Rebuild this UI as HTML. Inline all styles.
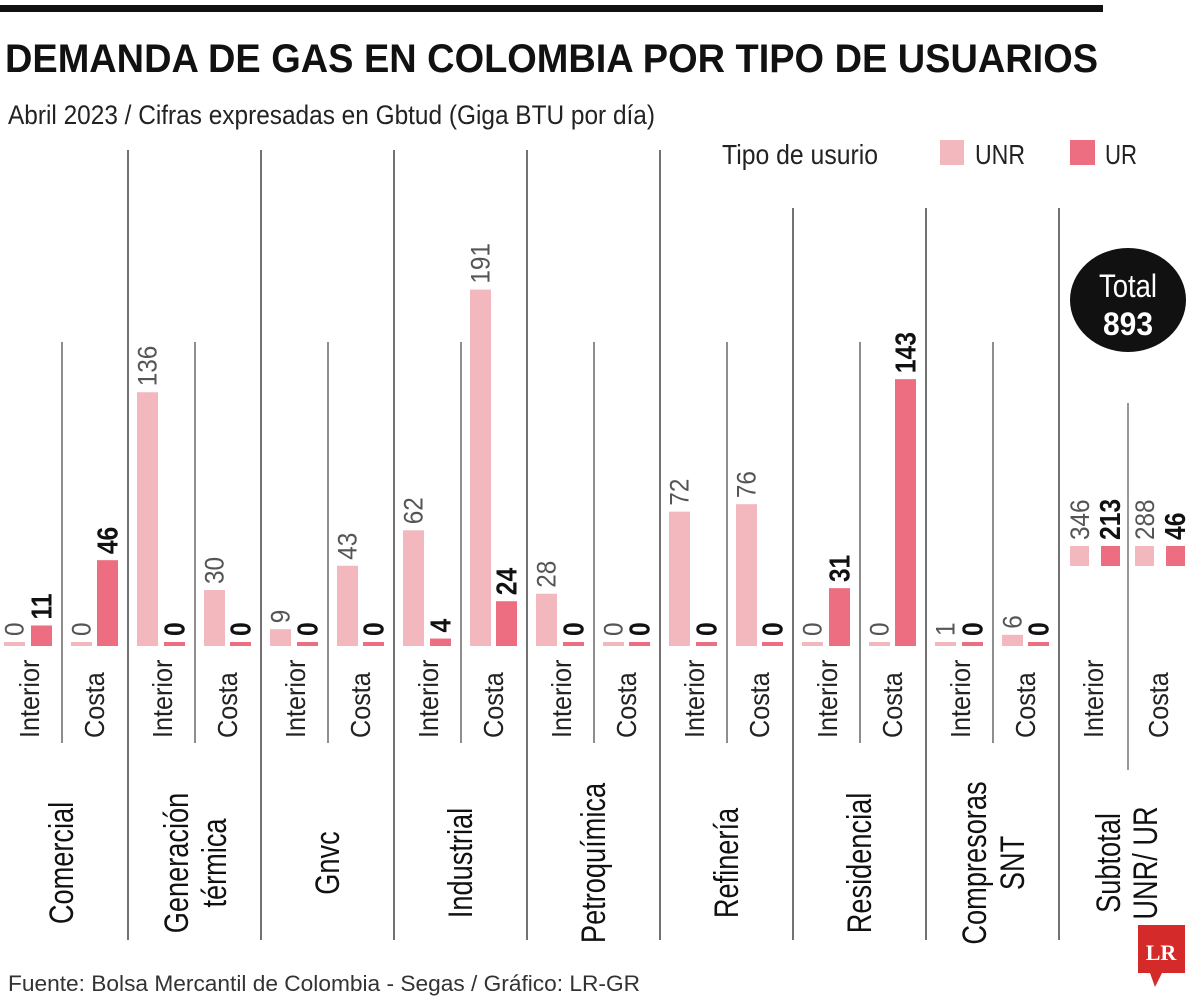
<!DOCTYPE html>
<html><head><meta charset="utf-8"><style>
html,body{margin:0;padding:0;background:#fff;}
svg{display:block;font-family:"Liberation Sans",sans-serif;}
</style></head><body>
<svg id="chart" width="1200" height="1001" viewBox="0 0 1200 1001" xmlns="http://www.w3.org/2000/svg">
<rect x="0" y="5" width="1103" height="7" fill="#111"/>
<text x="5" y="72" font-size="40" font-weight="bold" fill="#111" textLength="1093" lengthAdjust="spacingAndGlyphs">DEMANDA DE GAS EN COLOMBIA POR TIPO DE USUARIOS</text>
<text x="8" y="124" font-size="27" fill="#222" textLength="647" lengthAdjust="spacingAndGlyphs">Abril 2023 / Cifras expresadas en Gbtud (Giga BTU por día)</text>
<g>
<text x="722" y="164" font-size="28" fill="#222" textLength="156" lengthAdjust="spacingAndGlyphs">Tipo de usurio</text>
<rect x="940" y="140" width="24" height="25" fill="#f2b8bd"/>
<text x="975" y="164" font-size="28" fill="#222" textLength="50" lengthAdjust="spacingAndGlyphs">UNR</text>
<rect x="1070" y="140" width="25" height="25" fill="#ec6e80"/>
<text x="1105" y="164" font-size="28" fill="#222" textLength="32" lengthAdjust="spacingAndGlyphs">UR</text>
</g>
<g>
<ellipse cx="1128" cy="300" rx="58" ry="52" fill="#111"/>
<text x="1128" y="297" font-size="32" fill="#fff" text-anchor="middle" textLength="58" lengthAdjust="spacingAndGlyphs">Total</text>
<text x="1128" y="335" font-size="32" font-weight="bold" fill="#fff" text-anchor="middle" textLength="50" lengthAdjust="spacingAndGlyphs">893</text>
</g>
<text x="8" y="991" font-size="22" fill="#333" textLength="632" lengthAdjust="spacingAndGlyphs">Fuente: Bolsa Mercantil de Colombia - Segas / Gráfico: LR-GR</text>
<g>
<rect x="1138" y="925" width="47" height="48" fill="#d42a2a"/>
<polygon points="1150,973 1162,973 1155,987" fill="#d42a2a"/>
<text x="1161" y="960" font-size="22" font-weight="bold" font-family="Liberation Serif,serif" fill="#fff" text-anchor="middle">LR</text>
</g>
<g id="marks"></g>
</svg>
<script>
const categories = [["Comercial"],["Generación","térmica"],["Gnvc"],["Industrial"],["Petroquímica"],["Refinería"],["Residencial"],["Compresoras","SNT"]];
const interiorUNR = [0,136,9,62,28,72,0,1];
const interiorUR  = [11,0,0,4,0,0,31,0];
const costaUNR    = [0,30,43,191,0,76,0,6];
const costaUR     = [46,0,0,24,0,0,143,0];
const subtotalInterior = [346,213];
const subtotalCosta = [288,46];
const subLabels = ["Interior","Costa"];

const NS="http://www.w3.org/2000/svg";
const g=document.getElementById('marks');
const baseY=646, scale=1.866, groupW=133;
const yScale=v=>Math.max(v*scale,4);
const xGroup=i=>i*groupW;
function el(tag,attrs){const e=document.createElementNS(NS,tag);for(const k in attrs)e.setAttribute(k,attrs[k]);g.appendChild(e);return e;}
function vtext(x,y,str,size,weight,fill,anchor,sx){
  const t=el('text',{transform:`translate(${x},${y}) rotate(-90) scale(${sx},1)`,'font-size':size,'font-weight':weight,fill:fill,'text-anchor':anchor});
  t.textContent=str;return t;
}
function line(x,y1,y2,c,w){return el('line',{x1:x,x2:x,y1:y1,y2:y2,stroke:c,'stroke-width':w});}

const groupTops=[150,150,150,150,150,150,208,208,208];
for(let i=1;i<=8;i++){
  const l=line(xGroup(i)-5,groupTops[i],940,'#444',1.5);
  
  
}
const series=[[interiorUNR,4,'#f2b8bd',false],[interiorUR,31,'#ec6e80',true],[costaUNR,71,'#f2b8bd',false],[costaUR,97,'#ec6e80',true]];
categories.forEach((cat,i)=>{
  const gx=xGroup(i);
  const dl=line(gx+62,342,743,'#444',1.2);
  
  
  series.forEach(([arr,off,col,bold])=>{
    const v=arr[i], h=yScale(v), x=gx+off;
    const r=el('rect',{x:x,y:baseY-h,width:21,height:h,fill:col});
    
    
    const t=vtext(x+10.5+(bold?10:9),baseY-h-6,String(v),bold?29:27,bold?'bold':'normal',bold?'#111':'#555','start',bold?0.85:0.9);
    
    
  });
  const a=vtext(gx+39,738,subLabels[0],28,'normal','#222','start',0.9);
  
  
  const b=vtext(gx+104,738,subLabels[1],28,'normal','#222','start',0.9);
  
  
  cat.forEach((s,k)=>{
    const cx=gx+62+(cat.length===1?11:(k===0?-7:31));
    const c=vtext(cx,863,s,34,'normal','#111','middle',0.8);
    
    
  });
});
// subtotal
const sx=1064;
const sl=line(sx+64,403,770,'#777',1.5);


[[subtotalInterior,6],[subtotalCosta,71]].forEach(([arr,off])=>{
  arr.forEach((v,k)=>{
    const x=sx+off+k*31;
    const r=el('rect',{x:x,y:546,width:19,height:20,fill:k?'#ec6e80':'#f2b8bd'});
    
    
    const t=vtext(x+19,540,String(v),k?29:27,k?'bold':'normal',k?'#111':'#555','start',k?0.85:0.9);
    
    
  });
});
const si=vtext(sx+39,738,'Interior',28,'normal','#222','start',0.9);


const sc=vtext(sx+104,738,'Costa',28,'normal','#222','start',0.9);


const s1=vtext(sx+56,863,'Subtotal',34,'normal','#111','middle',0.8);


const s2=vtext(sx+93,863,'UNR/ UR',34,'normal','#111','middle',0.8);


</script>
</body></html>
